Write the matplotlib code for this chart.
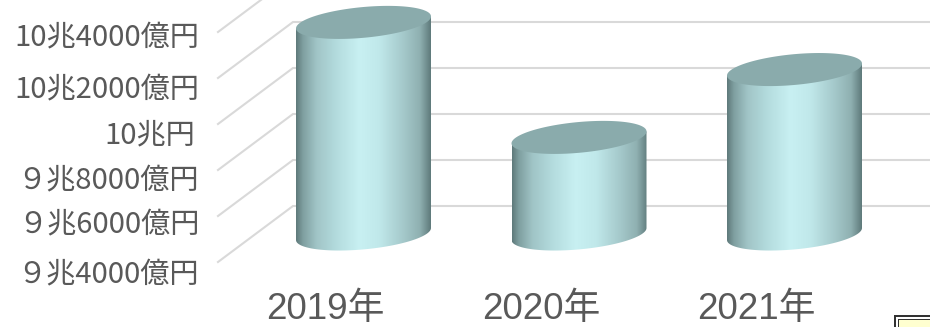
import numpy as np
import matplotlib.pyplot as plt
from matplotlib.colors import LinearSegmentedColormap
from matplotlib.patches import Polygon, Rectangle

years = ['2019年', '2020年', '2021年']
sales = [103200, 98200, 101150]  # oku yen

tick_values = [94000, 96000, 98000, 100000, 102000, 104000]
tick_labels = ['９兆4000億円', '９兆6000億円', '９兆8000億円', '10兆円', '10兆2000億円', '10兆4000億円']

W, H = 930, 327
BASE = 94000
PX_PER_OKU = 0.023       # vertical pixels per oku yen
PX_PER_CAT = 215.5       # horizontal pixels per category
CAT0_PX = 363.5          # pixel x of first category
FLOOR_PX = 234           # pixel y of the floor centre line

# half of the depth offset of the 3D box, in pixels
DEPTH_X, DEPTH_Y = 37.5, 28

fig = plt.figure(figsize=(W / 100, H / 100), dpi=100)
ax = fig.add_axes([0, 0, 1, 1])
ax.axis('off')

xlim = (-CAT0_PX / PX_PER_CAT, (W - CAT0_PX) / PX_PER_CAT)
ylim = (BASE - (H - FLOOR_PX) / PX_PER_OKU, BASE + FLOOR_PX / PX_PER_OKU)

dx = DEPTH_X / PX_PER_CAT
dy = DEPTH_Y / PX_PER_OKU
left_x = xlim[0] + (218 + DEPTH_X) / PX_PER_CAT  # centre plane of the side wall

# gridlines: front-left up to the back wall, then across the wall
for v in tick_values:
    ax.plot([left_x - dx, left_x + dx, xlim[1]], [v - dy, v + dy, v + dy],
            color='#d9d9d9', linewidth=1.5, solid_joinstyle='miter', zorder=1)

# tick labels sit slightly off the gridline ends
label_nudge = [(-19, -12), (-19, -8), (-19, -10), (-23, -11), (-19, -11), (-19, -5)]
for v, lab, nudge in zip(tick_values, tick_labels, label_nudge):
    ax.annotate(lab, xy=(left_x - dx, v - dy), xytext=nudge, textcoords='offset pixels',
                ha='right', va='center', fontsize=21, color='#595959',
                family=['Noto Sans CJK JP', 'DejaVu Sans'])

side_cmap = LinearSegmentedColormap.from_list('side', [
    (0.00, '#5f7a7b'), (0.05, '#7f9fa0'), (0.15, '#a0c4c6'), (0.30, '#b4dcde'),
    (0.47, '#c8f0f2'), (0.62, '#c0e8ea'), (0.80, '#a4c8ca'), (0.92, '#8fb0b1'),
    (1.00, '#5f7a7b'),
])

half_w = 67.5 / PX_PER_CAT
tilt = 6 / PX_PER_OKU     # rise of the ellipse from its left to its centre
minor = 15.4 / PX_PER_OKU
t = np.linspace(0, 2 * np.pi, 181)
grad = np.linspace(0, 1, 256)[None, :]

for i, (year, value) in enumerate(zip(years, sales)):
    # lower half of the base ellipse, then back up along the top rim
    tt = np.linspace(np.pi, 2 * np.pi, 91)
    bx = i + half_w * np.cos(tt)
    by = BASE + tilt * np.cos(tt) + minor * np.sin(tt)
    side_xy = np.r_[np.c_[bx, by], [[i + half_w, value + tilt], [i - half_w, value - tilt]]]
    side = Polygon(side_xy, closed=True, transform=ax.transData, facecolor='none', edgecolor='none')
    ax.add_patch(side)
    im = ax.imshow(grad, cmap=side_cmap, aspect='auto', zorder=3,
                   extent=(i - half_w, i + half_w, BASE - minor * 1.2, value + tilt))
    im.set_clip_path(side)

    top_x = i + half_w * np.cos(t)
    top_y = value + tilt * np.cos(t) + minor * np.sin(t)
    ax.fill(top_x, top_y, color='#8aabac', linewidth=0, zorder=4)

    ax.text(i - 0.175, ylim[0] + 8 / PX_PER_OKU, year, ha='center', va='baseline', fontsize=26.5,
            color='#595959', family=['Liberation Sans', 'Noto Sans CJK JP'])

ax.set_xlim(xlim)
ax.set_ylim(ylim)

# small note box cut off at the corner
def px_rect(x0, y0, **kw):
    fig.add_artist(Rectangle((x0 / W, 0), (W + 5 - x0) / W, (H - y0) / H,
                             transform=fig.transFigure, **kw))

px_rect(894, 315, facecolor='#333333', edgecolor='none')
px_rect(896, 317, facecolor='white', edgecolor='none')
px_rect(898, 319, facecolor='#333333', edgecolor='none')
px_rect(899, 320, facecolor='#ffffd0', edgecolor='none')

fig.savefig('out.png', dpi=100)
